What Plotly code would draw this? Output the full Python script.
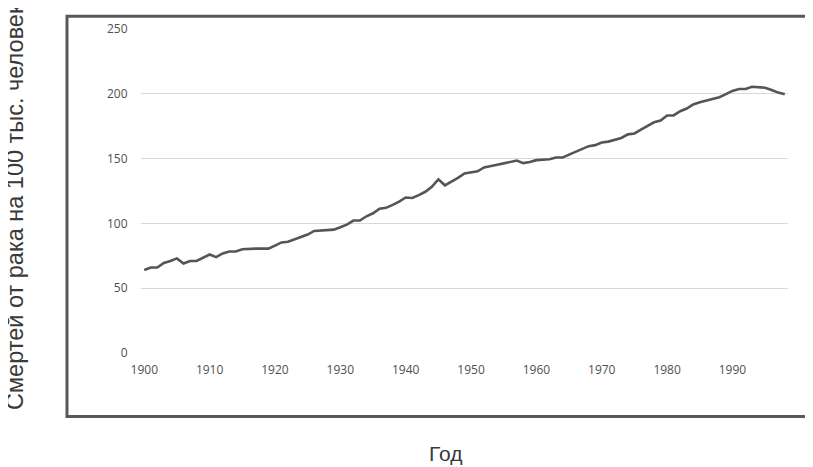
import plotly.graph_objects as go

years = list(range(1900, 1999))
deaths = [
    64, 66, 66, 69.5, 71, 73, 69, 71, 71, 73.7,
    76, 74, 76.8, 78.3, 78.3, 80, 80.5, 80.5, 80.5, 80.5,
    82.8, 85.3, 85.8, 87.6, 89.9, 91.4, 94.2, 94.5, 95.2, 95.2,
    97, 99, 102.2, 102.2, 105.5, 107.8, 111.3, 112, 114.3, 116.8,
    120, 119.6, 121.8, 124.4, 128.2, 134, 129.4, 132.2, 135.2, 138.5,
    139.5, 140.2, 143.2, 144.5, 145.3, 146.3, 147.5, 148.5, 146.5, 147.3,
    148.8, 149.3, 149.5, 150.8, 150.8, 153.1, 155.1, 157.3, 159.6, 160.4,
    162.4, 163.1, 164.4, 165.9, 168.7, 169.4, 172.4, 175.5, 178, 179.3,
    183.3, 183.3, 186.6, 188.6, 191.8, 193.4, 194.9, 196.1, 197.4, 199.7,
    202.2, 203.7, 203.7, 205.4, 205.2, 204.7, 202.9, 200.9, 199.7,
]
x_ticks = list(range(1900, 1991, 10))
y_ticks = [0, 50, 100, 150, 200, 250]

fig = go.Figure()
fig.add_trace(go.Scatter(
    x=years, y=deaths, mode="lines",
    line=dict(color="#555555", width=2.6),
    hoverinfo="skip", showlegend=False,
))

tick_font = dict(family="Open Sans, Noto Sans, sans-serif", size=12, color="#505050")
title_font = dict(family="Liberation Sans, Arial, sans-serif", size=23.5, color="#3a3a3a")

fig.update_layout(
    width=813, height=467,
    margin=dict(l=133, r=33, t=14, b=122),
    paper_bgcolor="white", plot_bgcolor="white",
    xaxis=dict(
        range=[1899.5, 1998.5], tickvals=x_ticks, ticktext=[str(v) for v in x_ticks],
        showgrid=False, zeroline=False, showline=False,
        ticks="outside", ticklen=6, tickcolor="rgba(0,0,0,0)",
        tickfont=tick_font,
    ),
    yaxis=dict(
        range=[0, 250], tickvals=y_ticks,
        showgrid=True, gridcolor="#d9d9d9", gridwidth=1,
        zeroline=False, showline=False,
        ticks="outside", ticklen=10, tickcolor="rgba(0,0,0,0)",
        tickfont=tick_font,
    ),
    shapes=[dict(
        type="rect", xref="paper", yref="paper",
        x0=-0.1144, x1=1.0355, y0=-0.196, y1=1.039,
        line=dict(color="#595959", width=3), fillcolor="rgba(0,0,0,0)", layer="below",
    )],
    annotations=[
        dict(text="Смертей от рака на 100 тыс. человек", xref="paper", yref="paper",
             x=-0.1955, y=0.452, xanchor="center", yanchor="middle", textangle=-90,
             showarrow=False, font=title_font),
        dict(text="Год", xref="paper", yref="paper",
             x=0.4714, y=-0.311, xanchor="center", yanchor="middle",
             showarrow=False, font=dict(title_font, size=21)),
    ],
)

fig.write_html("out.html")
